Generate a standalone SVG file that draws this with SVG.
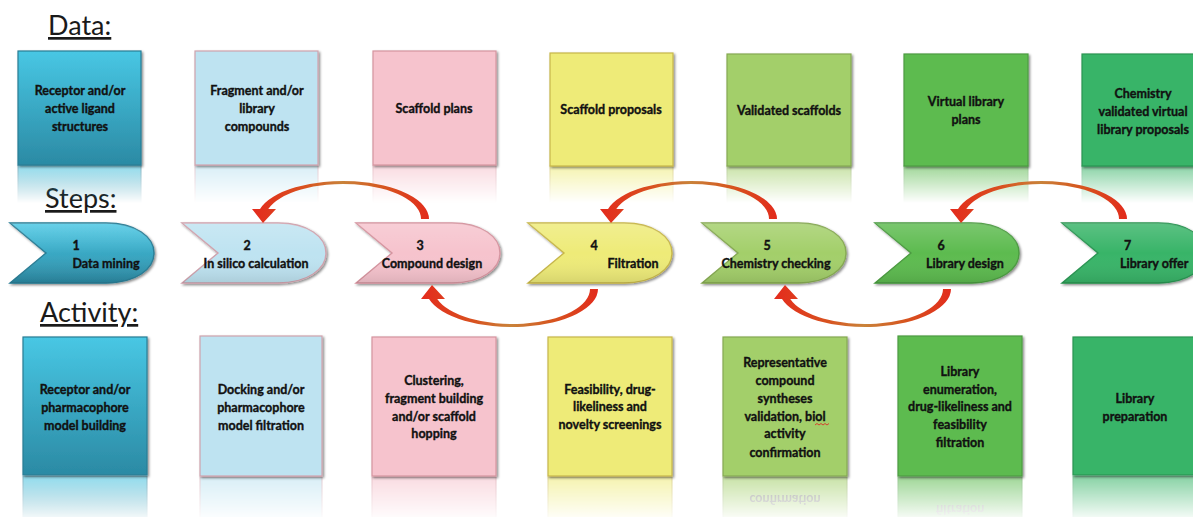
<svg xmlns="http://www.w3.org/2000/svg" width="1193" height="517" viewBox="0 0 1193 517">
  <style>
    .hdr { font-family: Lato, "Liberation Sans", sans-serif; font-size: 27px; fill: #1a1a1a; text-decoration: underline; }
    .t { font-family: Lato, "Liberation Sans", sans-serif; font-weight: bold; font-size: 12.5px; fill: #111; stroke: #111; stroke-width: 0.35; text-anchor: middle; }
    .box { stroke-width: 1.2; filter: url(#shadow); }
    .step { stroke-width: 1.4; filter: url(#shadow); }
    .c1 { fill: url(#teal); stroke: #2a7d95; }
    .c2 { fill: #bee3f1; stroke: #cfa2ad; }
    .c3 { fill: #f6c3cd; stroke: #d5949f; }
    .c4 { fill: #eeeb78; stroke: #c7b64a; }
    .c5 { fill: #a3cf6b; stroke: #86a952; }
    .c6 { fill: #5dbb50; stroke: #4b9b40; }
    .c7 { fill: #37b467; stroke: #2b9553; }
    .gloss { fill: url(#gloss); stroke: none; }
    .arrow { fill: url(#arrowGrad); }
    .mirror { font-family: Lato, "Liberation Sans", sans-serif; font-weight: bold; font-size: 12.5px; fill: #666; text-anchor: middle; }
  </style>
  <defs>
    <linearGradient id="teal" x1="0" y1="0" x2="0" y2="1">
      <stop offset="0" stop-color="#48c7e4"/>
      <stop offset="1" stop-color="#2b8aa4"/>
    </linearGradient>
    <linearGradient id="gloss" x1="0" y1="0" x2="0" y2="1">
      <stop offset="0" stop-color="#fff" stop-opacity="0.18"/>
      <stop offset="0.5" stop-color="#fff" stop-opacity="0"/>
      <stop offset="1" stop-color="#000" stop-opacity="0.1"/>
    </linearGradient>
    <linearGradient id="arrowGrad" gradientUnits="userSpaceOnUse" x1="-92" y1="0" x2="90" y2="0">
      <stop offset="0" stop-color="#e42a1d"/>
      <stop offset="0.3" stop-color="#d8521f"/>
      <stop offset="0.5" stop-color="#c9833a"/>
      <stop offset="0.72" stop-color="#d6561f"/>
      <stop offset="1" stop-color="#e3281c"/>
    </linearGradient>
    <linearGradient id="fade" x1="0" y1="0" x2="0" y2="1">
      <stop offset="0" stop-color="#fff" stop-opacity="0.6"/>
      <stop offset="1" stop-color="#fff" stop-opacity="0"/>
    </linearGradient>
    <mask id="fadeData" maskUnits="userSpaceOnUse" x="0" y="165" width="1193" height="40">
      <rect x="0" y="165" width="1193" height="38" fill="url(#fade)"/>
    </mask>
    <mask id="fadeSteps" maskUnits="userSpaceOnUse" x="0" y="283" width="1193" height="22">
      <rect x="0" y="283" width="1193" height="20" fill="url(#fade)"/>
    </mask>
    <mask id="fadeActivity" maskUnits="userSpaceOnUse" x="0" y="476" width="1193" height="41">
      <rect x="0" y="476" width="1193" height="46" fill="url(#fade)"/>
    </mask>
    <filter id="shadow" x="-5%" y="-5%" width="115%" height="115%">
      <feDropShadow dx="1.5" dy="1.5" stdDeviation="0.8" flood-color="#000" flood-opacity="0.45"/>
    </filter>
    <!-- step chevron: notched left side, rounded right end -->
    <path id="chev" d="M0,0 H96 C126,0 144,14 144,30 C144,46 126,60 96,60 H0 L36,30 Z"/>
    <!-- curved feedback arrow, tail on the right, head on the left -->
    <path id="curl" d="M86,0 A86,38 0 0 0 -82.97,-10 L-91,-10 L-80,4 L-67,-10 L-74.75,-10 A78,35 0 0 1 78,0 Z"/>
  </defs>

  <!-- row headings -->
  <text class="hdr" x="48" y="35">Data:</text>
  <text class="hdr" x="45" y="208">Steps:</text>
  <text class="hdr" x="40" y="322">Activity:</text>

  <!-- reflections under the data boxes -->
  <g mask="url(#fadeData)">
    <rect class="c1" x="18" y="165" width="123" height="38" stroke="none"/>
    <rect class="c2" x="195" y="165" width="123" height="38" stroke="none"/>
    <rect class="c3" x="373" y="165" width="123" height="38" stroke="none"/>
    <rect class="c4" x="550" y="166" width="123" height="38" stroke="none"/>
    <rect class="c5" x="727" y="166" width="124" height="38" stroke="none"/>
    <rect class="c6" x="904" y="166" width="124" height="38" stroke="none"/>
    <rect class="c7" x="1082" y="166" width="124" height="38" stroke="none"/>
  </g>

  <!-- reflections under the step shapes -->
  <g mask="url(#fadeSteps)">
    <use href="#chev" class="c1" stroke="none" transform="translate(10,566) scale(1,-1) translate(0,283)"/>
    <use href="#chev" class="c2" stroke="none" transform="translate(182,566) scale(1,-1) translate(0,283)"/>
    <use href="#chev" class="c3" stroke="none" transform="translate(356,566) scale(1,-1) translate(0,283)"/>
    <use href="#chev" class="c4" stroke="none" transform="translate(528,566) scale(1,-1) translate(0,283)"/>
    <use href="#chev" class="c5" stroke="none" transform="translate(702,566) scale(1,-1) translate(0,283)"/>
    <use href="#chev" class="c6" stroke="none" transform="translate(875,566) scale(1,-1) translate(0,283)"/>
    <use href="#chev" class="c7" stroke="none" transform="translate(1062,566) scale(1,-1) translate(0,283)"/>
  </g>

  <!-- reflections under the activity boxes -->
  <g mask="url(#fadeActivity)">
    <rect class="c1" x="23" y="476" width="124" height="46" stroke="none"/>
    <rect class="c2" x="200" y="477" width="122" height="46" stroke="none"/>
    <rect class="c3" x="372" y="477" width="124" height="46" stroke="none"/>
    <rect class="c4" x="548" y="477" width="124" height="46" stroke="none"/>
    <rect class="c5" x="723" y="477" width="124" height="46" stroke="none"/>
    <rect class="c6" x="898" y="477" width="124" height="46" stroke="none"/>
    <rect class="c7" x="1073" y="476" width="124" height="46" stroke="none"/>
    <g transform="translate(0,952) scale(1,-1)">
      <text class="mirror" x="785" y="457">confirmation</text>
      <text class="mirror" x="960" y="447">filtration</text>
    </g>
  </g>

  <!-- Data row -->
  <g id="data-1">
    <rect class="box c1" x="18" y="51" width="123" height="114"/>
    <text class="t"><tspan x="80" y="95">Receptor and/or</tspan><tspan x="80" y="113">active ligand</tspan><tspan x="80" y="131">structures</tspan></text>
  </g>
  <g id="data-2">
    <rect class="box c2" x="195" y="51" width="123" height="114"/>
    <text class="t"><tspan x="257" y="95">Fragment and/or</tspan><tspan x="257" y="113">library</tspan><tspan x="257" y="131">compounds</tspan></text>
  </g>
  <g id="data-3">
    <rect class="box c3" x="373" y="51" width="123" height="114"/>
    <text class="t" x="434" y="113">Scaffold plans</text>
  </g>
  <g id="data-4">
    <rect class="box c4" x="550" y="53" width="123" height="113"/>
    <text class="t" x="611" y="114">Scaffold proposals</text>
  </g>
  <g id="data-5">
    <rect class="box c5" x="727" y="54" width="124" height="112"/>
    <text class="t" x="789" y="115">Validated scaffolds</text>
  </g>
  <g id="data-6">
    <rect class="box c6" x="904" y="54" width="124" height="112"/>
    <text class="t"><tspan x="966" y="106">Virtual library</tspan><tspan x="966" y="124">plans</tspan></text>
  </g>
  <g id="data-7">
    <rect class="box c7" x="1082" y="54" width="124" height="112"/>
    <text class="t"><tspan x="1143" y="98">Chemistry</tspan><tspan x="1143" y="116">validated virtual</tspan><tspan x="1143" y="134">library proposals</tspan></text>
  </g>

  <!-- Steps row -->
  <g id="step-1">
    <use href="#chev" class="step c1" transform="translate(10,223)"/>
    <use href="#chev" class="gloss" transform="translate(10,223)"/>
    <text class="t"><tspan x="76" y="250">1</tspan><tspan x="106" y="268">Data mining</tspan></text>
  </g>
  <g id="step-2">
    <use href="#chev" class="step c2" transform="translate(182,223)"/>
    <use href="#chev" class="gloss" transform="translate(182,223)"/>
    <text class="t"><tspan x="247" y="250">2</tspan><tspan x="256" y="268">In silico calculation</tspan></text>
  </g>
  <g id="step-3">
    <use href="#chev" class="step c3" transform="translate(356,223)"/>
    <use href="#chev" class="gloss" transform="translate(356,223)"/>
    <text class="t"><tspan x="420" y="250">3</tspan><tspan x="432" y="268">Compound design</tspan></text>
  </g>
  <g id="step-4">
    <use href="#chev" class="step c4" transform="translate(528,223)"/>
    <use href="#chev" class="gloss" transform="translate(528,223)"/>
    <text class="t"><tspan x="594" y="250">4</tspan><tspan x="633" y="268">Filtration</tspan></text>
  </g>
  <g id="step-5">
    <use href="#chev" class="step c5" transform="translate(702,223)"/>
    <use href="#chev" class="gloss" transform="translate(702,223)"/>
    <text class="t"><tspan x="767" y="250">5</tspan><tspan x="776" y="268">Chemistry checking</tspan></text>
  </g>
  <g id="step-6">
    <use href="#chev" class="step c6" transform="translate(875,223)"/>
    <use href="#chev" class="gloss" transform="translate(875,223)"/>
    <text class="t"><tspan x="941" y="250">6</tspan><tspan x="965" y="268">Library design</tspan></text>
  </g>
  <g id="step-7">
    <use href="#chev" class="step c7" transform="translate(1062,223)"/>
    <use href="#chev" class="gloss" transform="translate(1062,223)"/>
    <text class="t" style="text-anchor:start"><tspan x="1124" y="250">7</tspan><tspan x="1120" y="268">Library offer</tspan></text>
  </g>

  <!-- Activity row -->
  <g id="activity-1">
    <rect class="box c1" x="23" y="337" width="124" height="138"/>
    <text class="t"><tspan x="85" y="394">Receptor and/or</tspan><tspan x="85" y="412">pharmacophore</tspan><tspan x="85" y="430">model building</tspan></text>
  </g>
  <g id="activity-2">
    <rect class="box c2" x="200" y="336" width="122" height="140"/>
    <text class="t"><tspan x="261" y="394">Docking and/or</tspan><tspan x="261" y="412">pharmacophore</tspan><tspan x="261" y="430">model filtration</tspan></text>
  </g>
  <g id="activity-3">
    <rect class="box c3" x="372" y="337" width="124" height="139"/>
    <text class="t"><tspan x="434" y="385">Clustering,</tspan><tspan x="434" y="403">fragment building</tspan><tspan x="434" y="421">and/or scaffold</tspan><tspan x="434" y="438">hopping</tspan></text>
  </g>
  <g id="activity-4">
    <rect class="box c4" x="548" y="337" width="124" height="139"/>
    <text class="t"><tspan x="610" y="394">Feasibility, drug-</tspan><tspan x="610" y="411">likeliness and</tspan><tspan x="610" y="429">novelty screenings</tspan></text>
  </g>
  <g id="activity-5">
    <rect class="box c5" x="723" y="337" width="124" height="139"/>
    <text class="t"><tspan x="785" y="367">Representative</tspan><tspan x="785" y="385">compound</tspan><tspan x="785" y="403">syntheses</tspan><tspan x="785" y="421">validation, biol</tspan><tspan x="785" y="438">activity</tspan><tspan x="785" y="457">confirmation</tspan></text>
    <path d="M815,425 l2,-1.5 l2,1.5 l2,-1.5 l2,1.5 l2,-1.5 l2,1.5 l2,-1.5" fill="none" stroke="#e02020" stroke-width="0.8"/>
  </g>
  <g id="activity-6">
    <rect class="box c6" x="898" y="336" width="124" height="140"/>
    <text class="t"><tspan x="960" y="376">Library</tspan><tspan x="960" y="394">enumeration,</tspan><tspan x="960" y="411">drug-likeliness and</tspan><tspan x="960" y="429">feasibility</tspan><tspan x="960" y="447">filtration</tspan></text>
  </g>
  <g id="activity-7">
    <rect class="box c7" x="1073" y="337" width="124" height="138"/>
    <text class="t"><tspan x="1135" y="403">Library</tspan><tspan x="1135" y="421">preparation</tspan></text>
  </g>

  <!-- feedback connectors -->
  <g id="connectors">
    <use href="#curl" class="arrow" transform="translate(343,219)"/>
    <use href="#curl" class="arrow" transform="translate(691,219)"/>
    <use href="#curl" class="arrow" transform="translate(1041,219)"/>
    <use href="#curl" class="arrow" transform="translate(512,289) scale(1,-1)"/>
    <use href="#curl" class="arrow" transform="translate(865,289) scale(1,-1)"/>
  </g>
</svg>
